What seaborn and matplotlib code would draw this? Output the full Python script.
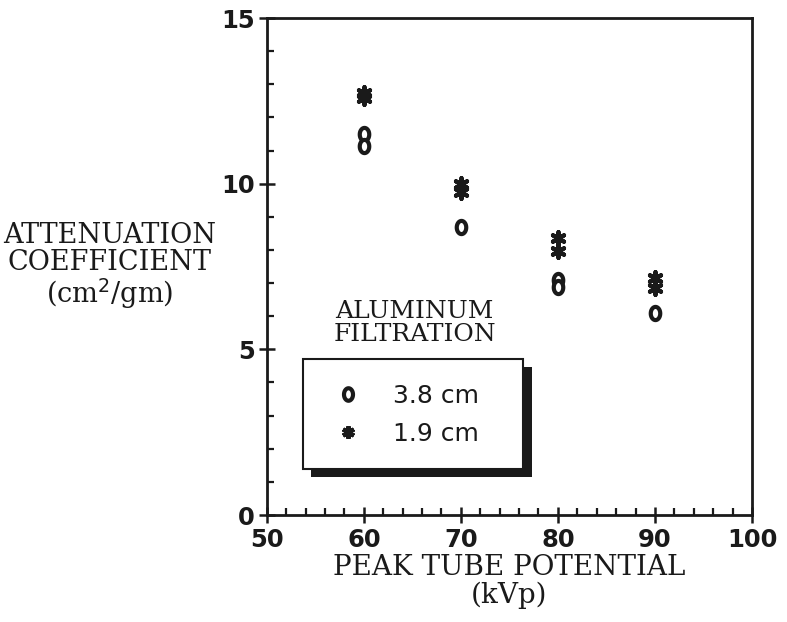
import numpy as np
import pandas as pd
import matplotlib
matplotlib.use("Agg")
import matplotlib.pyplot as plt
from matplotlib.lines import Line2D
from matplotlib.patches import Rectangle
from matplotlib.path import Path
import seaborn as sns

# ---- data ----
kvp_38 = [60, 60, 70, 80, 80, 90]
coef_38 = [11.50, 11.14, 8.69, 7.09, 6.88, 6.10]
kvp_19 = [60, 60, 70, 70, 80, 80, 90, 90]
coef_19 = [12.75, 12.60, 9.99, 9.75, 8.36, 7.97, 7.15, 6.85]
series_labels = ["3.8 cm", "1.9 cm"]
x_ticks = [50, 60, 70, 80, 90, 100]
y_ticks = [0, 5, 10, 15]

df = pd.concat([
    pd.DataFrame({"kVp": kvp_38, "coef": coef_38, "filtration": series_labels[0]}),
    pd.DataFrame({"kVp": kvp_19, "coef": coef_19, "filtration": series_labels[1]}),
], ignore_index=True)

sns.set_theme(style="white")
plt.rcParams["font.family"] = ["DejaVu Serif", "DejaVu Sans"]

INK = "#1a1a1a"
fig = plt.figure(figsize=(7.87, 6.22), dpi=100)
ax = fig.add_axes([0.339, 0.172, 0.6165, 0.799])

# bold "o" like marker: a narrow ellipse
t = np.linspace(0, 2 * np.pi, 40)
oval = Path(np.column_stack([0.72 * np.cos(t), np.sin(t)]), closed=True)
star = (6, 2, 0)

sns.scatterplot(data=df[df.filtration == series_labels[0]], x="kVp", y="coef",
                marker=oval, s=90, color="white", edgecolor=INK,
                linewidth=3.0, ax=ax, legend=False, zorder=3)
sns.scatterplot(data=df[df.filtration == series_labels[1]], x="kVp", y="coef",
                marker=star, s=85, color=INK, linewidth=3.0,
                ax=ax, legend=False, zorder=3)

ax.set_xlim(50, 100)
ax.set_ylim(0, 15)
ax.set_xticks(x_ticks)
ax.set_yticks(y_ticks)
ax.set_xticks(np.arange(50, 101, 2), minor=True)
ax.set_yticks(np.arange(0, 16, 1), minor=True)
ax.set_xticklabels([str(v) for v in x_ticks], fontsize=17.5, fontweight="bold",
                   family="DejaVu Sans")
ax.set_yticklabels([str(v) for v in y_ticks], fontsize=17.5, fontweight="bold",
                   family="DejaVu Sans")
ax.tick_params(which="both", bottom=True, left=True, top=False, right=False)
ax.tick_params(which="major", direction="inout", length=11, width=1.8,
               color=INK, labelcolor=INK)
ax.tick_params(which="minor", direction="in", length=5, width=1.6, color=INK)
ax.tick_params(axis="x", which="major", pad=4)
ax.tick_params(axis="y", which="major", pad=3)

for sp in ax.spines.values():
    sp.set_visible(True)
    sp.set_color(INK)
    sp.set_linewidth(2.0)

ax.set_xlabel("PEAK TUBE POTENTIAL\n(kVp)", fontsize=20, color=INK,
              linespacing=1.05, labelpad=1)
ax.set_ylabel("ATTENUATION\nCOEFFICIENT\n(cm$^2$/gm)", fontsize=19.5, color=INK,
              rotation=0, linespacing=1.0, ha="center", va="center")
ax.yaxis.set_label_coords(-0.324, 0.50)

# legend box with heavy shadow
ax.add_patch(Rectangle((0.091, 0.076), 0.455, 0.222, transform=ax.transAxes,
                       facecolor=INK, edgecolor="none", zorder=4))
ax.add_patch(Rectangle((0.074, 0.093), 0.454, 0.221, transform=ax.transAxes,
                       facecolor="white", edgecolor=INK, linewidth=1.5, zorder=5))
ax.text(0.305, 0.387, "ALUMINUM\nFILTRATION", transform=ax.transAxes,
        ha="center", va="center", fontsize=18, color=INK, linespacing=1.0)

handles = [
    Line2D([], [], linestyle="none", marker=oval, markersize=9,
           markerfacecolor="white", markeredgecolor=INK, markeredgewidth=3.0),
    Line2D([], [], linestyle="none", marker=star, markersize=9,
           color=INK, markeredgewidth=3.0),
]
leg = ax.legend(handles, series_labels, loc="center", bbox_to_anchor=(0.29, 0.201),
                frameon=False, prop={"family": "DejaVu Sans", "size": 18},
                handletextpad=1.3, labelspacing=0.55, handlelength=1.0)
leg.set_zorder(6)
for txt in leg.get_texts():
    txt.set_color(INK)

fig.savefig("out.png", dpi=100, facecolor="white")
